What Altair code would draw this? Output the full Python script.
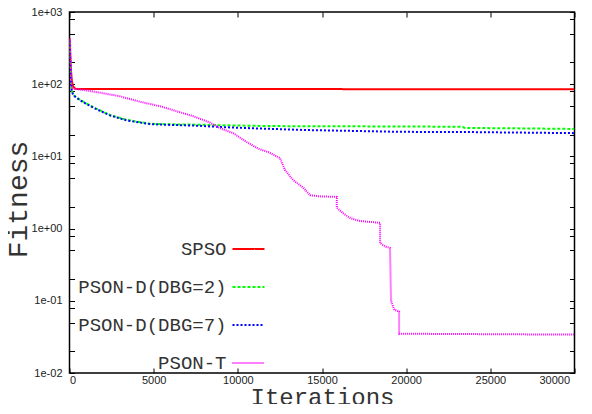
import altair as alt
import pandas as pd

series_names = ["SPSO", "PSON-D(DBG=2)", "PSON-D(DBG=7)", "PSON-T"]
series_colors = ["#ff0000", "#00ff00", "#0000ff", "#ff00ff"]
series_dashes = [[1, 0], [3, 2], [2, 2], [1, 1]]

spso_x = [0, 40, 80, 130, 200, 300, 400, 30000]
spso_y = [430, 260, 160, 115, 95, 88, 86, 85]

dbg2_x = [0, 40, 80, 130, 225, 620, 1400, 2400, 3400, 4780, 6000, 7700, 9000,
          12000, 16000, 19600, 23300, 23500, 27000, 30000]
dbg2_y = [400, 220, 120, 83, 71, 61, 48, 37.5, 32, 28.3, 27.8, 27.5, 27,
          26.3, 26.1, 26, 25.7, 24.8, 24.4, 24]

dbg7_x = [0, 40, 80, 130, 225, 620, 1400, 2400, 3400, 4780, 6000, 7700, 9000,
          10700, 14000, 19600, 24000, 30000]
dbg7_y = [400, 220, 115, 82, 70, 60, 47.5, 37, 31.5, 28, 27.3, 26.6, 25.5,
          24.6, 23.2, 21.9, 21.7, 21]

psont_x = [0, 30, 80, 130, 300, 1000, 2000, 3000, 4200, 5380, 6400, 7350, 8350,
           8940, 9720, 10530, 11200, 11800, 12500, 12800, 13280, 13880, 14290,
           14800, 15880, 15880, 16300, 16670, 17200, 18450, 18450, 18800, 19040,
           19100, 19300, 19580, 19580, 30000]
psont_y = [430, 420, 200, 89, 86, 82, 75, 68, 57, 49.5, 42, 36, 29.4,
           24.6, 21, 15.8, 12.8, 11.5, 9.5, 6.5, 4.7, 3.7, 2.9,
           2.8, 2.75, 1.94, 1.6, 1.4, 1.28, 1.2, 0.63, 0.56, 0.54,
           0.1, 0.075, 0.071, 0.035, 0.034]

x_ticks = [0, 5000, 10000, 15000, 20000, 25000, 30000]
y_ticks = [0.01, 0.02, 0.05, 0.08, 0.1, 0.2, 0.5, 0.8, 1, 2, 5, 8,
           10, 20, 50, 80, 100, 200, 500, 800, 1000]

rows = []
for name, xs, ys in [(series_names[0], spso_x, spso_y),
                     (series_names[1], dbg2_x, dbg2_y),
                     (series_names[2], dbg7_x, dbg7_y),
                     (series_names[3], psont_x, psont_y)]:
    for i, (xv, yv) in enumerate(zip(xs, ys)):
        rows.append({"iter": xv, "fitness": yv, "series": name, "idx": i})
df = pd.DataFrame(rows)

xscale = alt.Scale(domain=[0, 30000], nice=False, zero=False)
yscale = alt.Scale(type="log", domain=[0.01, 1000], nice=False)

label_expr = ("abs(log(datum.value)/LN10 - round(log(datum.value)/LN10)) < 1e-6 ? "
              "((datum.value >= 1 ? '1e+0' : '1e-0') + abs(round(log(datum.value)/LN10))) : ''")

common_axis = dict(domain=False, grid=False, tickColor="black", tickWidth=1,
                   tickSize=5, offset=-5, labelFont="Liberation Sans",
                   labelFontSize=11, labelColor="#222", titleFont="Liberation Mono",
                   titleFontWeight="normal", titleColor="#333",
                   titleBaseline="alphabetic")

legend = alt.Legend(title=None, orient="none", legendX=162, legendY=220,
                    direction="vertical", symbolType="stroke", symbolSize=1024,
                    symbolStrokeWidth=2, labelAlign="right",
                    labelOffset={"expr": "-39"},
                    labelFont="Liberation Mono", labelFontSize=19,
                    labelColor="#333", rowPadding=11, labelLimit=400, padding=0)

lines = alt.Chart(df).mark_line(strokeWidth=2, clip=True).encode(
    x=alt.X("iter:Q", scale=xscale,
            axis=alt.Axis(values=x_ticks, format="d", orient="bottom",
                          labelPadding=1, title="Iterations", titleY=36,
                          titleFontSize=24,
                          labelOffset={"condition": {"test": "datum.value == 30000", "value": -5},
                                       "value": 0},
                          **common_axis)),
    y=alt.Y("fitness:Q", scale=yscale,
            axis=alt.Axis(values=y_ticks, labelExpr=label_expr, orient="left",
                          labelPadding=7.5, title="Fitness", titleX=-48.5, titleY=187,
                          titleFontSize=28,
                          **common_axis)),
    color=alt.Color("series:N", scale=alt.Scale(domain=series_names, range=series_colors),
                    legend=legend),
    strokeDash=alt.StrokeDash("series:N",
                              scale=alt.Scale(domain=series_names, range=series_dashes),
                              legend=legend),
    order=alt.Order("idx:Q"),
)

mirror = alt.Chart(df).mark_line(opacity=0).encode(
    x=alt.X("iter:Q", scale=xscale,
            axis=alt.Axis(values=x_ticks, orient="top", labels=False, title=None,
                          domain=False, grid=False, tickColor="black", tickSize=5, offset=-5)),
    y=alt.Y("fitness:Q", scale=yscale,
            axis=alt.Axis(values=y_ticks, orient="right", labels=False, title=None,
                          domain=False, grid=False, tickColor="black", tickSize=5, offset=-5)),
    detail="series:N",
)

chart = alt.layer(lines, mirror).resolve_axis(x="independent", y="independent").properties(
    width=505, height=361,
    autosize=alt.AutoSizeParams(type="none"),
    padding={"left": 61.5, "top": 4, "right": 9.5, "bottom": 31},
).configure_view(stroke="black", strokeWidth=1.5)

chart.save("out.html", embed_options={"renderer": "svg", "actions": False})
